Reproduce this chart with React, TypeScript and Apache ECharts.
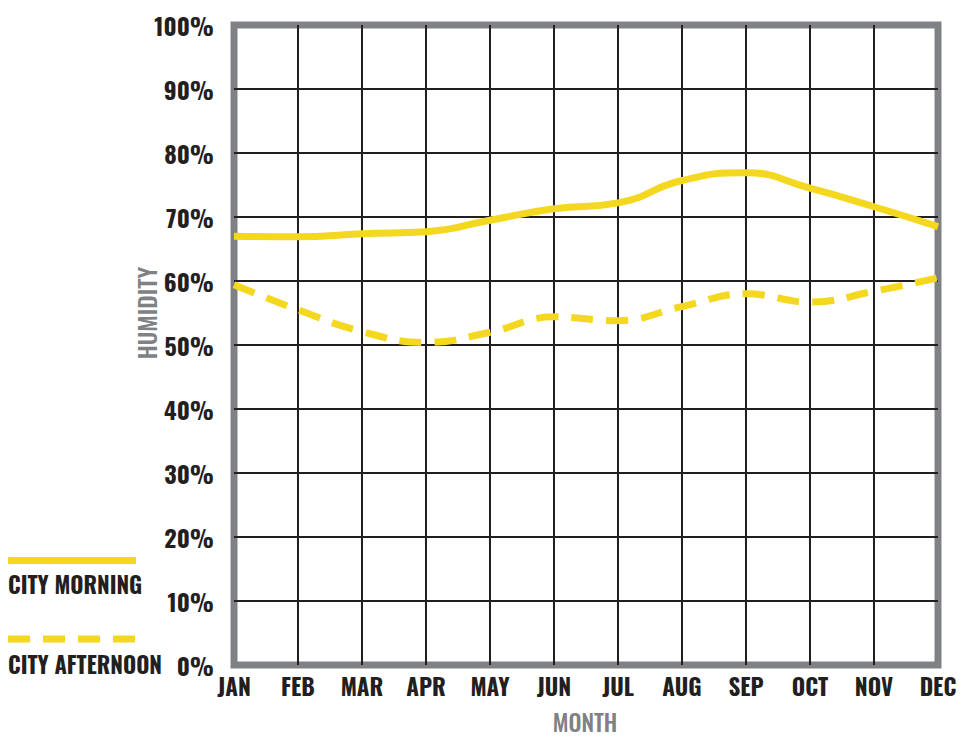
import React, { useEffect, useRef } from "react";
import * as echarts from "echarts";

const months = ["JAN", "FEB", "MAR", "APR", "MAY", "JUN", "JUL", "AUG", "SEP", "OCT", "NOV", "DEC"];
const morning = [67.0, 66.9, 67.4, 67.7, 69.5, 71.3, 72.2, 75.7, 76.9, 74.5, 71.6, 68.5];
const afternoon = [59.4, 55.5, 52.1, 50.4, 52.0, 54.4, 53.8, 56.0, 58.0, 56.7, 58.4, 60.5];
const seriesNames = ["CITY MORNING", "CITY AFTERNOON"];
const yAxisTitle = "HUMIDITY";
const xAxisTitle = "MONTH";

const YELLOW = "#F4D820";
const DARK = "#231F20";
const GRAY = "#808184";
const FONT = "Oswald, 'Roboto Condensed', 'Open Sans Condensed', sans-serif";

export default function App() {
  const ref = useRef<HTMLDivElement>(null);
  useEffect(() => {
    if (!ref.current) return;
    const chart = echarts.init(ref.current, null, { renderer: "svg" });
    const dash = [22, 13];
    chart.setOption({
      animation: false,
      backgroundColor: "#ffffff",
      grid: {
        left: 234,
        right: 22,
        top: 25,
        bottom: 74,
        show: true,
        borderColor: GRAY,
        borderWidth: 7,
        backgroundColor: "transparent",
      },
      xAxis: {
        type: "category",
        data: months,
        boundaryGap: false,
        axisLine: { show: false },
        axisTick: { show: false },
        axisLabel: {
          color: DARK,
          fontFamily: FONT,
          fontWeight: "bold",
          fontSize: 23,
          margin: 9,
        },
        splitLine: {
          show: true,
          showMinLine: false,
          showMaxLine: false,
          lineStyle: { color: DARK, width: 2 },
        },
      },
      yAxis: {
        type: "value",
        min: 0,
        max: 100,
        interval: 10,
        axisLine: { show: false },
        axisTick: { show: false },
        axisLabel: {
          color: DARK,
          fontFamily: FONT,
          fontWeight: "bold",
          fontSize: 24,
          margin: 20,
          formatter: "{value}%",
        },
        splitLine: {
          show: true,
          showMinLine: false,
          showMaxLine: false,
          lineStyle: { color: DARK, width: 2 },
        },
      },
      series: [
        {
          name: seriesNames[0],
          type: "line",
          data: morning,
          smooth: 0.5,
          symbol: "none",
          lineStyle: { color: YELLOW, width: 7 },
          z: 3,
        },
        {
          name: seriesNames[1],
          type: "line",
          data: afternoon,
          smooth: 0.45,
          symbol: "none",
          lineStyle: { color: YELLOW, width: 7, type: dash },
          z: 3,
        },
      ],
      graphic: [
        {
          type: "line",
          shape: { x1: 8, y1: 560.5, x2: 136, y2: 560.5 },
          style: { stroke: YELLOW, lineWidth: 7 },
        },
        {
          type: "text",
          x: 8,
          y: 583,
          scaleX: 0.94,
          style: {
            text: seriesNames[0],
            fill: DARK,
            font: `bold 24px ${FONT}`,
            textAlign: "left",
            textVerticalAlign: "middle",
          },
        },
        {
          type: "line",
          shape: { x1: 8, y1: 639, x2: 136, y2: 639 },
          style: { stroke: YELLOW, lineWidth: 7, lineDash: [22, 13] },
        },
        {
          type: "text",
          x: 8,
          y: 663,
          scaleX: 0.94,
          style: {
            text: seriesNames[1],
            fill: DARK,
            font: `bold 24px ${FONT}`,
            textAlign: "left",
            textVerticalAlign: "middle",
          },
        },
        {
          type: "text",
          x: 146,
          y: 313,
          rotation: Math.PI / 2,
          style: {
            text: yAxisTitle,
            fill: GRAY,
            font: `500 24px ${FONT}`,
            textAlign: "center",
            textVerticalAlign: "middle",
          },
        },
        {
          type: "text",
          x: 585,
          y: 722,
          style: {
            text: xAxisTitle,
            fill: GRAY,
            font: `500 23px ${FONT}`,
            textAlign: "center",
            textVerticalAlign: "middle",
          },
        },
      ],
    });
    return () => chart.dispose();
  }, []);
  return (
    <div
      ref={ref}
      style={{ position: "fixed", left: 0, top: 0, width: 960, height: 739 }}
    />
  );
}
